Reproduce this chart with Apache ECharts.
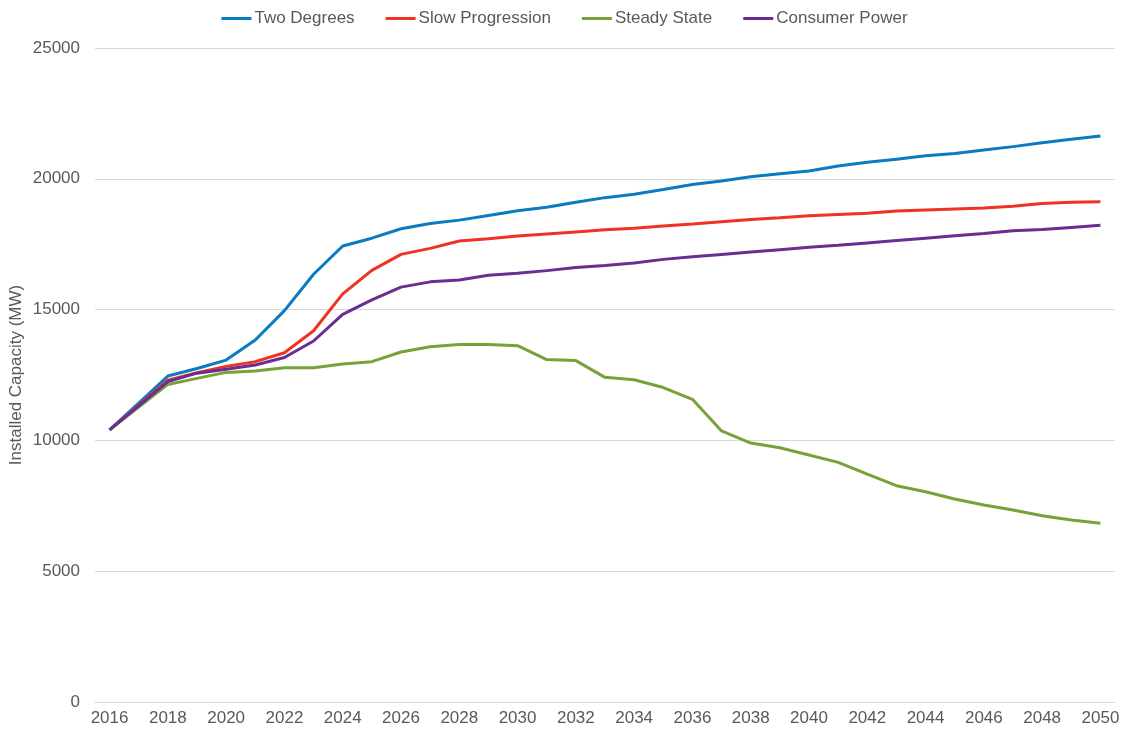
<!DOCTYPE html>
<html>
<head>
<meta charset="utf-8">
<script src="https://cdn.jsdelivr.net/npm/echarts@6/dist/echarts.min.js"></script>
<style>
html,body{margin:0;padding:0;background:#fff;}
#chart{width:1129px;height:731px;}
</style>
</head>
<body>
<div id="chart"></div>
<script>
const years = [];
for (let y = 2016; y <= 2050; y++) years.push(String(y));

const twoDegrees = [10400,11430,12460,12750,13070,13840,14960,16350,17430,17730,18090,18290,18420,18600,18780,18910,19100,19280,19410,19590,19780,19920,20080,20190,20300,20490,20630,20750,20880,20970,21100,21230,21380,21510,21640];
const slowProgression = [10400,11350,12300,12590,12830,13010,13350,14190,15600,16500,17110,17340,17620,17710,17810,17890,17970,18050,18110,18200,18270,18360,18440,18510,18590,18640,18680,18770,18810,18845,18880,18950,19060,19100,19125];
const steadyState = [10400,11270,12140,12370,12600,12650,12780,12780,12920,13010,13380,13580,13670,13670,13620,13090,13050,12410,12320,12020,11570,10360,9900,9720,9440,9160,8710,8270,8040,7760,7530,7340,7120,6960,6830];
const consumerPower = [10400,11320,12250,12570,12720,12880,13170,13800,14820,15370,15860,16060,16130,16310,16390,16490,16610,16690,16780,16920,17020,17110,17200,17290,17380,17460,17550,17640,17730,17820,17910,18010,18060,18140,18220];

const seriesNames = ['Two Degrees','Slow Progression','Steady State','Consumer Power'];
const seriesColors = ['#0A7AC1','#EE3224','#77A23A','#6A2D91'];
const seriesData = [twoDegrees, slowProgression, steadyState, consumerPower];

const font = 'Liberation Sans, Arial, sans-serif';
const chart = echarts.init(document.getElementById('chart'), null, {renderer:'canvas'});
chart.setOption({
  animation: false,
  color: seriesColors,
  textStyle: {fontFamily: font},
  legend: {
    data: seriesNames,
    top: 5,
    left: 'center',
    icon: 'rect',
    itemWidth: 30,
    itemHeight: 3,
    itemGap: 31,
    textStyle: {color: '#595959', fontSize: 17, fontFamily: font, padding: [0,0,0,-2]}
  },
  grid: {left: 95, right: 14, top: 48, bottom: 29, containLabel: false, outerBoundsMode: 'none'},
  xAxis: {
    type: 'category',
    data: years,
    boundaryGap: true,
    axisLine: {show: true, lineStyle: {color: '#D9D9D9', width: 1}},
    axisTick: {show: false},
    axisLabel: {interval: 1, color: '#595959', fontSize: 17, fontFamily: font, margin: 8}
  },
  yAxis: {
    type: 'value',
    min: 0, max: 25000, interval: 5000,
    name: 'Installed Capacity (MW)',
    nameLocation: 'middle',
    nameGap: 70,
    nameMoveOverlap: false,
    nameTextStyle: {color: '#595959', fontSize: 17, fontFamily: font},
    axisLine: {show: false},
    axisTick: {show: false},
    axisLabel: {color: '#595959', fontSize: 17, fontFamily: font, margin: 15, formatter: v => String(v)},
    splitLine: {lineStyle: {color: '#D9D9D9', width: 1}}
  },
  series: seriesNames.map((n, i) => ({
    name: n,
    type: 'line',
    data: seriesData[i],
    symbol: 'none',
    smooth: false,
    lineStyle: {width: 3, color: seriesColors[i]},
    itemStyle: {color: seriesColors[i]}
  }))
});
</script>
</body>
</html>
